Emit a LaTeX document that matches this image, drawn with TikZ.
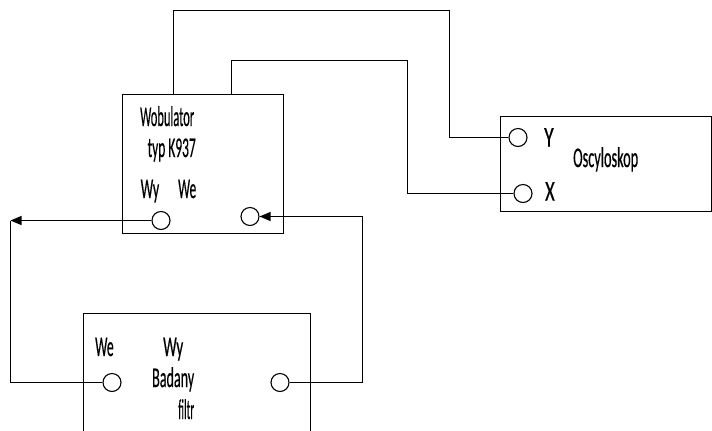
\documentclass[tikz,border=0pt]{standalone}
\usepackage{fontspec}
\usepackage{graphicx}
\setmainfont{Carlito}[FakeBold=0.6]
\newcommand\sqz[2]{\resizebox{#1}{\height}{#2}}
\usetikzlibrary{arrows.meta}
\begin{document}
\begin{tikzpicture}[x=1bp,y=-1bp,
  wire/.style={line width=1.2bp, draw=black},
  arr/.style={wire, -{Triangle[length=11bp,width=9bp]}},
  port/.style={circle, draw=black, line width=1.1bp, minimum size=18bp, inner sep=0pt},
  lbl/.style={anchor=base west, inner sep=0pt, font=\fontsize{28.5bp}{30bp}\selectfont}]
\useasboundingbox (0,0) rectangle (712,430);
% boxes
\node[draw=black, line width=1.2bp, minimum width=161bp, minimum height=139bp, inner sep=0pt] (wob) at (203,164) {};
\node[draw=black, line width=1.2bp, minimum width=211bp, minimum height=95bp, inner sep=0pt] (osc) at (606,164) {};
\draw[wire] (83.5,440) -- (83.5,313.5) -- (310.5,313.5) -- (310.5,440);
% ports
\node[port] (wy) at (161,220.5) {};
\node[port] (we) at (250,216.5) {};
\node[port] (oy) at (518,137.5) {};
\node[port] (ox) at (523,193.5) {};
\node[port] (fwe) at (112,382.5) {};
\node[port] (fwy) at (280,382.5) {};
% labels
\node[lbl] (t1) at (140,126) {\sqz{54bp}{Wobulator}};
\node[lbl] (t2) at (147.5,157) {\sqz{48bp}{typ K937}};
\node[lbl] (t3) at (140.5,198) {\sqz{18.5bp}{Wy}};
\node[lbl] (t4) at (178,198) {\sqz{18bp}{We}};
\node[lbl] (t5) at (95,356) {\sqz{18.5bp}{We}};
\node[lbl] (t6) at (163,356) {\sqz{20bp}{Wy}};
\node[lbl] (t7) at (152,387) {\sqz{42bp}{Badany}};
\node[lbl] (t8) at (178,419) {\sqz{16bp}{filtr}};
\node[lbl] (t9) at (544,146.5) {\sqz{9.5bp}{Y}};
\node[lbl] (t10) at (545,200.5) {\sqz{9.5bp}{X}};
\node[lbl] (t11) at (573,167) {\sqz{65bp}{Oscyloskop}};
% connectors
\coordinate (wa) at (173.5,94.5);
\coordinate (wb) at (231.5,94.5);
\coordinate (c1) at (449.5,10.5);
\coordinate (c2) at (407.5,60.5);
\draw[wire] (wa) |- (c1) |- (oy.west);
\draw[wire] (wb) |- (c2) |- (ox.west);
\coordinate (k1) at (10.5,220.5);
\coordinate (k2) at (362.5,216.5);
\draw[arr] (wy.west |- k1) -- (k1);
\draw[wire] (k1) |- (fwe.west);
\draw[arr] (fwy.east) -| (k2) -- (we.east);
\end{tikzpicture}
\end{document}
